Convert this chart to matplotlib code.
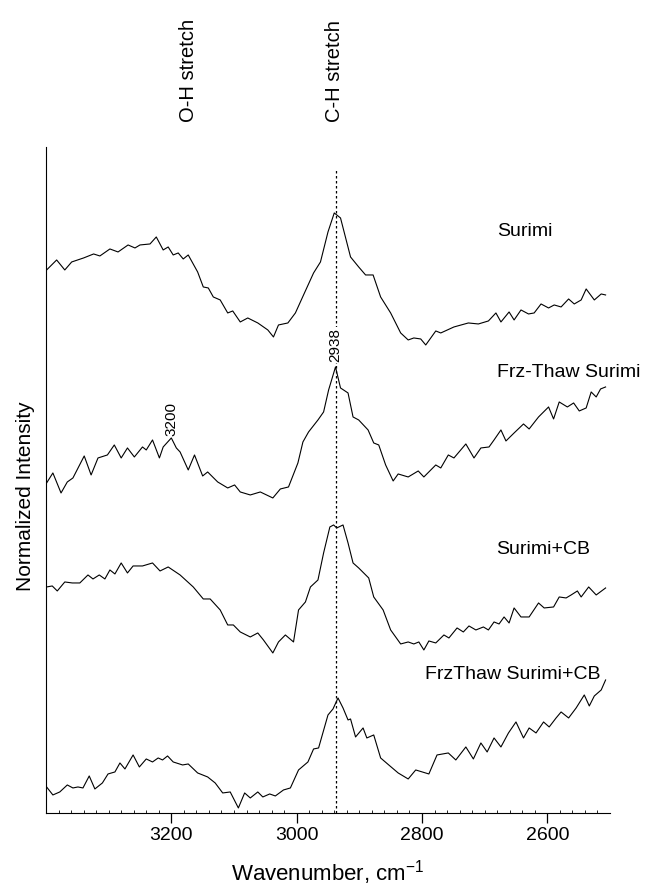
import numpy as np
import matplotlib.pyplot as plt

plt.rcParams["font.family"] = ["Liberation Sans", "DejaVu Sans"]

# =========================
# DATA
# =========================

# Surimi
wn_surimi = [3399, 3383, 3370, 3359, 3340, 3324, 3314, 3298, 3285, 3269, 3258, 3250,
             3234, 3224, 3213, 3205, 3197, 3189, 3181, 3173, 3158, 3149, 3141, 3133,
             3122, 3110, 3102, 3090, 3078, 3062, 3046, 3037, 3029, 3014, 3002, 2989,
             2973, 2962, 2950, 2940, 2930, 2914, 2901, 2890, 2878, 2866, 2850, 2834,
             2822, 2813, 2802, 2794, 2778, 2770, 2749, 2726, 2710, 2694, 2682, 2674,
             2661, 2653, 2642, 2630, 2621, 2610, 2598, 2589, 2578, 2566, 2557, 2546,
             2538, 2525, 2514, 2507]
int_surimi = [5.43, 5.53, 5.43, 5.51, 5.55, 5.59, 5.57, 5.64, 5.61, 5.68, 5.65, 5.68,
              5.69, 5.76, 5.63, 5.66, 5.58, 5.60, 5.54, 5.58, 5.41, 5.26, 5.25, 5.16,
              5.13, 5.00, 5.02, 4.91, 4.95, 4.90, 4.83, 4.76, 4.88, 4.90, 5.00, 5.18,
              5.40, 5.51, 5.81, 6.00, 5.95, 5.56, 5.46, 5.38, 5.38, 5.16, 5.00, 4.80,
              4.73, 4.75, 4.74, 4.68, 4.82, 4.80, 4.86, 4.90, 4.89, 4.92, 5.00, 4.91,
              5.01, 4.93, 5.03, 4.99, 5.00, 5.09, 5.05, 5.08, 5.06, 5.14, 5.09, 5.13,
              5.24, 5.13, 5.19, 5.18]

# Frz-Thaw Surimi
wn_frz = [3399, 3389, 3376, 3366, 3357, 3339, 3328, 3317, 3302, 3291, 3280, 3270,
          3259, 3246, 3240, 3230, 3219, 3213, 3200, 3192, 3186, 3173, 3163, 3150,
          3142, 3126, 3110, 3099, 3090, 3074, 3058, 3038, 3026, 3013, 2998, 2990,
          2981, 2966, 2957, 2949, 2938, 2930, 2918, 2910, 2901, 2886, 2877, 2869,
          2858, 2846, 2838, 2822, 2806, 2797, 2778, 2770, 2758, 2749, 2730, 2717,
          2706, 2693, 2685, 2674, 2666, 2653, 2638, 2629, 2614, 2598, 2590, 2581,
          2568, 2558, 2549, 2538, 2530, 2522, 2515, 2507]
int_frz = [3.30, 3.40, 3.20, 3.31, 3.35, 3.57, 3.38, 3.55, 3.58, 3.68, 3.55, 3.65,
           3.56, 3.66, 3.63, 3.73, 3.55, 3.66, 3.75, 3.65, 3.61, 3.43, 3.58, 3.37,
           3.41, 3.31, 3.25, 3.28, 3.21, 3.18, 3.21, 3.15, 3.24, 3.26, 3.50, 3.71,
           3.81, 3.93, 4.01, 4.23, 4.46, 4.25, 4.20, 3.96, 3.93, 3.83, 3.70, 3.68,
           3.48, 3.32, 3.39, 3.36, 3.42, 3.36, 3.48, 3.45, 3.58, 3.55, 3.69, 3.55,
           3.65, 3.66, 3.73, 3.83, 3.72, 3.80, 3.89, 3.84, 3.96, 4.06, 3.94, 4.11,
           4.06, 4.10, 4.02, 4.05, 4.21, 4.16, 4.24, 4.26]

# Surimi+CB
wn_cb = [3399, 3390, 3382, 3370, 3358, 3346, 3333, 3325, 3315, 3306, 3298, 3290,
         3280, 3270, 3261, 3246, 3230, 3218, 3205, 3186, 3165, 3149, 3138, 3122,
         3110, 3101, 3090, 3074, 3062, 3053, 3038, 3029, 3018, 3005, 2997, 2986,
         2978, 2966, 2957, 2947, 2941, 2936, 2926, 2918, 2910, 2901, 2885, 2877,
         2862, 2850, 2834, 2822, 2813, 2805, 2797, 2789, 2778, 2765, 2757, 2744,
         2734, 2725, 2714, 2702, 2694, 2685, 2677, 2669, 2661, 2653, 2642, 2629,
         2614, 2605, 2590, 2581, 2570, 2562, 2552, 2546, 2534, 2522, 2507]
int_cb = [2.26, 2.27, 2.22, 2.31, 2.30, 2.30, 2.38, 2.34, 2.38, 2.34, 2.43, 2.39,
          2.50, 2.40, 2.47, 2.47, 2.50, 2.42, 2.46, 2.38, 2.26, 2.14, 2.14, 2.03,
          1.88, 1.88, 1.81, 1.76, 1.80, 1.73, 1.60, 1.71, 1.78, 1.71, 2.03, 2.11,
          2.26, 2.33, 2.60, 2.86, 2.88, 2.85, 2.88, 2.70, 2.50, 2.45, 2.35, 2.16,
          2.03, 1.83, 1.69, 1.71, 1.69, 1.71, 1.63, 1.72, 1.70, 1.78, 1.75, 1.85,
          1.81, 1.87, 1.83, 1.86, 1.83, 1.91, 1.89, 1.96, 1.90, 2.05, 1.96, 1.96,
          2.10, 2.05, 2.06, 2.16, 2.15, 2.18, 2.22, 2.16, 2.26, 2.18, 2.25]

# FrzThaw Surimi+CB
wn_frz_cb = [3399, 3389, 3378, 3366, 3357, 3349, 3341, 3331, 3322, 3310, 3301, 3290,
             3282, 3274, 3261, 3251, 3240, 3230, 3221, 3214, 3206, 3197, 3182, 3173,
             3158, 3142, 3130, 3118, 3106, 3093, 3083, 3074, 3062, 3054, 3043, 3034,
             3021, 3010, 2997, 2982, 2973, 2965, 2950, 2942, 2934, 2926, 2918, 2914,
             2906, 2894, 2888, 2877, 2866, 2853, 2838, 2822, 2810, 2789, 2776, 2758,
             2746, 2730, 2718, 2706, 2696, 2685, 2674, 2662, 2650, 2638, 2629, 2618,
             2606, 2597, 2586, 2578, 2566, 2554, 2541, 2533, 2525, 2514, 2507]
int_frz_cb = [0.26, 0.18, 0.21, 0.28, 0.25, 0.26, 0.25, 0.37, 0.24, 0.30, 0.39, 0.41,
              0.50, 0.44, 0.58, 0.46, 0.54, 0.51, 0.55, 0.53, 0.57, 0.51, 0.48, 0.49,
              0.40, 0.36, 0.30, 0.20, 0.21, 0.05, 0.20, 0.15, 0.21, 0.16, 0.19, 0.17,
              0.23, 0.25, 0.43, 0.51, 0.64, 0.65, 0.98, 1.04, 1.15, 1.05, 0.93, 0.94,
              0.76, 0.85, 0.75, 0.78, 0.55, 0.48, 0.40, 0.34, 0.43, 0.39, 0.58, 0.60,
              0.53, 0.66, 0.54, 0.70, 0.61, 0.75, 0.66, 0.80, 0.91, 0.75, 0.85, 0.80,
              0.91, 0.86, 0.95, 1.01, 0.95, 1.05, 1.18, 1.07, 1.17, 1.23, 1.33]

spectra_wn = [wn_surimi, wn_frz, wn_cb, wn_frz_cb]
spectra_int = [int_surimi, int_frz, int_cb, int_frz_cb]
spectra_names = ["Surimi", "Frz-Thaw Surimi", "Surimi+CB", "FrzThaw Surimi+CB"]

# label position of each spectrum (wavenumber, intensity)
name_x = [2680, 2680, 2682, 2795]
name_y = [5.81, 4.40, 2.63, 1.38]

ch_peak = 2938
oh_peak = 3200
band_names = ["O-H stretch", "C-H stretch"]
band_x = [3173, 2940]

# =========================
# PLOT
# =========================

fig = plt.figure(figsize=(6.45, 8.88), dpi=100)
ax = fig.add_axes([0.0713, 0.0845, 0.8744, 0.75])

for wn, inten in zip(spectra_wn, spectra_int):
    ax.plot(wn, inten, color="black", lw=0.8)

for name, x, y in zip(spectra_names, name_x, name_y):
    ax.text(x, y, name, fontsize=14, ha="left", va="center")

# dashed line at the C-H peak
ax.plot([ch_peak, ch_peak], [0, 6.45], color="black", lw=0.9, ls=(0, (2, 2)))

# peak labels on the Frz-Thaw spectrum
peak_frz = int_frz[wn_frz.index(ch_peak)]
ax.text(ch_peak, peak_frz + 0.05, str(ch_peak), rotation=90, fontsize=11,
        ha="center", va="bottom",
        bbox=dict(facecolor="white", edgecolor="none", pad=0.5))
peak_oh = int_frz[wn_frz.index(oh_peak)]
ax.text(oh_peak, peak_oh + 0.02, str(oh_peak), rotation=90, fontsize=11,
        ha="center", va="bottom")

for name, x in zip(band_names, band_x):
    ax.text(x, 1.0375, name, rotation=90, fontsize=14.5, ha="center", va="bottom",
            transform=ax.get_xaxis_transform())

ax.set_xlim(3400, 2500)
ax.set_ylim(0, 6.66)

ax.spines["top"].set_visible(False)
ax.spines["right"].set_visible(False)
ax.set_yticks([])
ax.set_xticks([3200, 3000, 2800, 2600])
ax.set_xticks(np.arange(3380, 2500, -20), minor=True)
ax.tick_params(axis="x", which="major", direction="out", length=7, width=0.9,
               labelsize=14, pad=3)
ax.tick_params(axis="x", which="minor", direction="in", length=2, width=0.6)

ax.set_xlabel("Wavenumber, cm$^{\\mathregular{-1}}$", fontsize=16, labelpad=10)
ax.set_ylabel("Normalized Intensity", fontsize=15)
ax.yaxis.set_label_coords(-0.02, 0.475)

fig.savefig("out.png", dpi=100)
